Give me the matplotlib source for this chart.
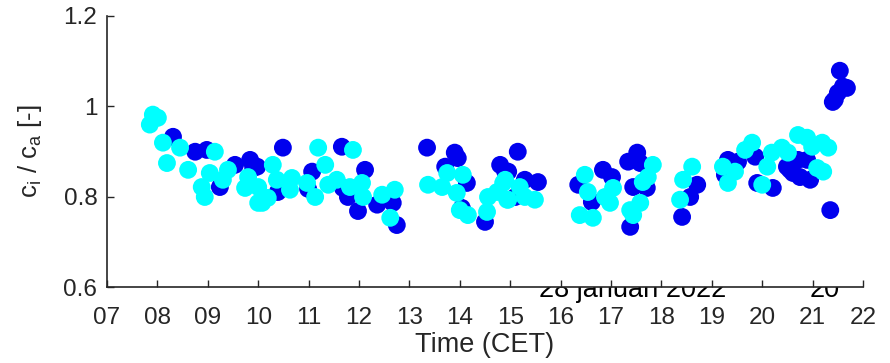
import matplotlib
matplotlib.use("Agg")
import matplotlib.pyplot as plt

plt.rcParams['font.family'] = ['Liberation Sans', 'DejaVu Sans']
plt.rcParams['mathtext.fontset'] = 'custom'
plt.rcParams['mathtext.rm'] = 'Liberation Sans'

# blue series (hours CET, ci/ca)
blue_t = [8.31, 8.75, 8.98, 9.24, 9.54, 9.84, 9.90, 9.98, 10.49, 10.39,
          11.07, 10.99, 11.66, 11.68, 11.78, 11.98, 12.12, 12.36, 12.67, 12.75,
          13.35, 13.90, 13.96, 13.71, 14.14, 14.04, 14.50, 14.80, 14.90, 15.15,
          14.96, 15.29, 15.55, 15.10, 16.35, 16.84, 17.02, 16.62, 17.34, 17.44,
          17.38, 17.52, 17.58, 17.71, 18.41, 18.71, 18.57, 19.32, 19.52, 19.26,
          19.86, 19.90, 20.21, 20.49, 20.61, 20.75, 20.95, 20.89, 20.71, 20.55,
          21.35, 21.54, 21.60, 21.50, 21.44, 21.68, 21.40]
blue_v = [0.933, 0.900, 0.904, 0.822, 0.871, 0.882, 0.864, 0.867, 0.909, 0.811,
          0.856, 0.818, 0.911, 0.820, 0.800, 0.769, 0.860, 0.783, 0.787, 0.738,
          0.909, 0.898, 0.886, 0.867, 0.831, 0.776, 0.745, 0.871, 0.856, 0.900,
          0.856, 0.838, 0.833, 0.800, 0.827, 0.860, 0.844, 0.789, 0.878, 0.822,
          0.734, 0.898, 0.875, 0.820, 0.756, 0.827, 0.800, 0.882, 0.878, 0.849,
          0.889, 0.831, 0.820, 0.867, 0.853, 0.844, 0.838, 0.882, 0.882, 0.860,
          0.771, 1.079, 1.044, 1.030, 1.015, 1.041, 1.010]

# cyan series
cyan_t = [7.85, 7.91, 8.01, 8.11, 8.19, 8.45, 8.61, 8.88, 8.94, 9.04,
          9.14, 9.30, 9.40, 9.74, 9.80, 10.00, 10.00, 10.08, 10.19, 10.29,
          10.37, 10.63, 10.67, 10.97, 11.13, 11.19, 11.33, 11.39, 11.56, 11.82,
          11.88, 12.06, 12.08, 12.46, 12.62, 12.71, 13.37, 13.65, 13.75, 13.94,
          14.00, 14.06, 14.16, 14.54, 14.56, 14.74, 14.86, 14.94, 14.90, 15.19,
          15.29, 15.49, 14.96, 16.48, 16.54, 16.38, 16.64, 16.88, 17.04, 16.98,
          17.38, 17.73, 17.83, 17.63, 17.58, 17.44, 18.37, 18.43, 18.61, 19.22,
          19.32, 19.46, 19.66, 19.80, 20.00, 20.10, 20.19, 20.39, 20.51, 20.71,
          20.89, 20.99, 21.19, 21.31, 21.09, 21.21]
cyan_v = [0.960, 0.982, 0.975, 0.920, 0.875, 0.909, 0.860, 0.822, 0.800, 0.853,
          0.900, 0.838, 0.860, 0.820, 0.844, 0.822, 0.787, 0.787, 0.798, 0.871,
          0.838, 0.816, 0.842, 0.831, 0.800, 0.909, 0.871, 0.827, 0.838, 0.822,
          0.904, 0.831, 0.800, 0.805, 0.754, 0.816, 0.827, 0.822, 0.853, 0.809,
          0.771, 0.849, 0.760, 0.767, 0.800, 0.811, 0.831, 0.794, 0.838, 0.822,
          0.800, 0.794, 0.794, 0.849, 0.811, 0.760, 0.754, 0.800, 0.820, 0.787,
          0.771, 0.844, 0.871, 0.833, 0.787, 0.760, 0.794, 0.838, 0.867, 0.867,
          0.831, 0.856, 0.904, 0.920, 0.827, 0.867, 0.898, 0.909, 0.898, 0.937,
          0.931, 0.911, 0.920, 0.909, 0.864, 0.856]

xticks = list(range(7, 23))
xticklabels = ['%02d' % h for h in xticks]
yticks = [0.6, 0.8, 1.0, 1.2]
yticklabels = ['0.6', '0.8', '1', '1.2']

fig = plt.figure(figsize=(8.9, 3.63), dpi=100)
ax = fig.add_axes([0.1202, 0.208, 0.8495, 0.748])

ax.scatter(blue_t, blue_v, s=165, color='#0000EE', edgecolors='none', zorder=2)
ax.scatter(cyan_t, cyan_v, s=165, color='#00FFFF', edgecolors='none', zorder=3)

ax.set_xlim(7, 22)
ax.set_ylim(0.6, 1.2)
ax.set_xticks(xticks)
ax.set_xticklabels(xticklabels)
ax.set_yticks(yticks)
ax.set_yticklabels(yticklabels)

dark = '#262626'
for s in ['top', 'right']:
    ax.spines[s].set_visible(False)
for s in ['left', 'bottom']:
    ax.spines[s].set_color(dark)
    ax.spines[s].set_linewidth(1.2)
ax.tick_params(direction='in', length=5, width=1.0, color=dark,
               labelcolor=dark, labelsize=17.5)
ax.tick_params(axis='x', pad=14)
ax.tick_params(axis='y', pad=7)

ax.set_xlabel('Time (CET)', fontsize=19.5, color=dark, labelpad=2)
ax.set_ylabel(r'c$_\mathregular{i}$ / c$_\mathregular{a}$ [-]', fontsize=18.5,
              color=dark, labelpad=14)

# date labels sit behind the axes, so the top part is hidden
fig.text(0.711, 1 - 297 / 363, '28 januari 2022', fontsize=19.5, color='black',
         ha='center', va='baseline', zorder=-1)
fig.text(0.927, 1 - 297 / 363, '20', fontsize=19.5, color='black',
         ha='center', va='baseline', zorder=-1)

fig.savefig('out.png', dpi=100)
